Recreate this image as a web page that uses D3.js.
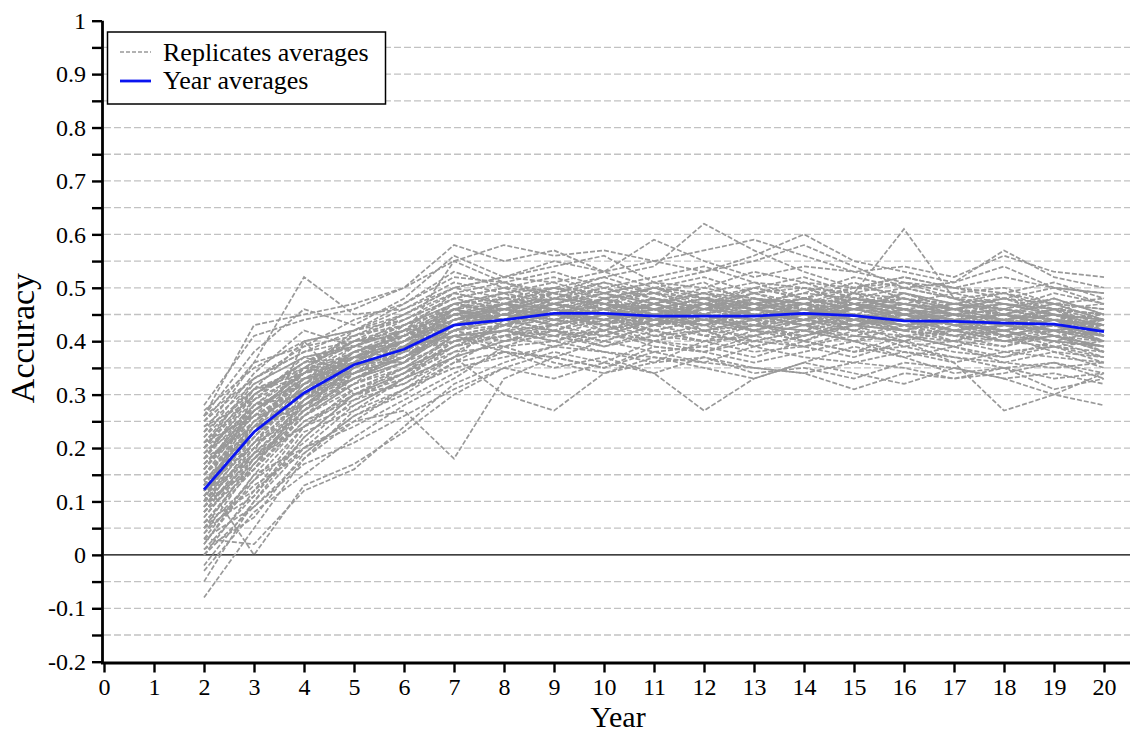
<!DOCTYPE html>
<html><head><meta charset="utf-8">
<script src="https://cdn.jsdelivr.net/npm/d3@7"></script>
<style>body{margin:0;background:#fff}svg{display:block}text{font-family:"Liberation Serif","Times New Roman",serif;fill:#000}</style>
</head><body><svg id="c" width="1133" height="735"></svg>
<script>
const years = [2,3,4,5,6,7,8,9,10,11,12,13,14,15,16,17,18,19,20];
const xTicks = [0,1,2,3,4,5,6,7,8,9,10,11,12,13,14,15,16,17,18,19,20];
const yTicks = [-0.2,-0.1,0,0.1,0.2,0.3,0.4,0.5,0.6,0.7,0.8,0.9,1];
const yTickLabels = ["-0.2","-0.1","0","0.1","0.2","0.3","0.4","0.5","0.6","0.7","0.8","0.9","1"];
const gridValues = [-0.15,-0.1,-0.05,0.05,0.1,0.15,0.2,0.25,0.3,0.35,0.4,0.45,0.5,0.55,0.6,0.65,0.7,0.75,0.8,0.85,0.9,0.95];
const yearAverages = [0.122,0.230,0.303,0.356,0.385,0.430,0.440,0.452,0.452,0.447,0.447,0.447,0.452,0.448,0.438,0.437,0.434,0.432,0.418];
const replicates = [
[.12,.25,.31,.36,.40,.45,.47,.46,.48,.45,.43,.46,.44,.47,.45,.43,.44,.42,.40],
[.05,.18,.27,.33,.37,.41,.43,.44,.42,.44,.46,.45,.43,.44,.46,.44,.41,.43,.41],
[.20,.30,.36,.39,.42,.47,.49,.50,.48,.49,.47,.50,.52,.49,.47,.46,.48,.45,.44],
[-.05,.10,.22,.30,.34,.40,.42,.43,.45,.41,.42,.44,.40,.43,.44,.42,.40,.41,.39],
[.15,.27,.33,.35,.39,.44,.45,.47,.46,.48,.45,.44,.46,.45,.42,.44,.45,.43,.42],
[.08,.20,.29,.37,.36,.42,.44,.42,.45,.47,.44,.43,.45,.48,.46,.43,.42,.44,.43],
[.25,.33,.38,.40,.45,.50,.52,.51,.53,.50,.49,.51,.48,.50,.49,.47,.46,.48,.45],
[.02,.14,.24,.31,.35,.39,.41,.44,.43,.40,.42,.39,.41,.44,.42,.40,.43,.41,.38],
[.10,.22,.32,.34,.38,.43,.46,.45,.44,.46,.48,.45,.47,.44,.45,.46,.44,.42,.43],
[.18,.28,.30,.38,.41,.46,.44,.48,.47,.45,.46,.49,.46,.47,.44,.45,.43,.46,.44],
[.00,.12,.20,.28,.33,.37,.40,.41,.39,.42,.40,.41,.43,.40,.41,.39,.41,.38,.37],
[.13,.24,.34,.37,.40,.44,.47,.49,.46,.44,.47,.46,.48,.46,.47,.45,.44,.45,.41],
[.22,.31,.35,.41,.43,.48,.50,.47,.49,.51,.48,.47,.49,.52,.50,.48,.47,.46,.47],
[.06,.16,.26,.32,.39,.41,.42,.45,.47,.43,.44,.42,.44,.45,.43,.41,.42,.40,.42],
[.16,.26,.28,.34,.37,.42,.45,.43,.45,.48,.46,.45,.44,.43,.46,.44,.43,.44,.40],
[.09,.21,.31,.38,.38,.45,.43,.46,.44,.46,.45,.48,.45,.46,.48,.46,.45,.43,.44],
[.27,.35,.40,.42,.47,.52,.51,.53,.50,.52,.54,.51,.50,.49,.51,.49,.50,.47,.48],
[.03,.15,.25,.29,.32,.38,.39,.40,.42,.39,.38,.40,.39,.41,.40,.38,.37,.39,.36],
[.11,.23,.29,.35,.41,.43,.44,.46,.45,.44,.43,.45,.46,.44,.43,.44,.42,.43,.41],
[.19,.29,.34,.36,.40,.47,.48,.47,.50,.47,.49,.48,.47,.48,.46,.47,.45,.44,.43],
[.14,.20,.30,.33,.36,.40,.43,.45,.43,.45,.41,.43,.42,.45,.44,.42,.41,.42,.38],
[.07,.19,.27,.36,.37,.44,.46,.44,.46,.43,.47,.44,.45,.42,.45,.43,.44,.41,.42],
[.24,.32,.37,.39,.44,.49,.47,.50,.52,.49,.48,.50,.48,.51,.48,.46,.48,.47,.44],
[.01,.11,.23,.27,.31,.36,.38,.37,.40,.38,.39,.37,.40,.38,.39,.37,.36,.38,.35],
[.17,.27,.32,.38,.40,.45,.46,.48,.47,.46,.47,.47,.45,.47,.46,.45,.46,.44,.42],
[.12,.22,.33,.36,.42,.43,.45,.44,.47,.45,.44,.46,.44,.46,.44,.42,.43,.42,.43],
[.21,.26,.35,.40,.41,.46,.49,.45,.48,.50,.47,.46,.48,.47,.49,.46,.45,.47,.44],
[.04,.17,.28,.32,.36,.42,.40,.43,.41,.44,.43,.42,.41,.43,.42,.41,.39,.42,.40],
[.14,.00,.13,.17,.23,.30,.35,.38,.36,.40,.39,.42,.40,.38,.41,.39,.37,.40,.37],
[.28,.41,.44,.46,.50,.58,.55,.57,.53,.55,.57,.59,.56,.53,.54,.52,.56,.53,.52],
[.26,.38,.46,.43,.48,.56,.52,.54,.56,.51,.53,.55,.58,.54,.50,.51,.54,.50,.49],
[.02,.15,.20,.25,.27,.18,.33,.37,.35,.38,.36,.39,.37,.36,.38,.37,.35,.36,.34],
[-.08,.05,.18,.25,.31,.35,.37,.39,.38,.36,.40,.38,.39,.37,.40,.36,.38,.37,.36],
[-.03,.08,.15,.22,.28,.33,.39,.36,.34,.37,.35,.33,.36,.39,.37,.34,.35,.33,.34],
[.10,.19,.24,.28,.33,.37,.30,.27,.34,.36,.37,.34,.35,.33,.36,.35,.33,.34,.32],
[.23,.36,.52,.45,.46,.51,.49,.51,.48,.50,.52,.49,.47,.50,.51,.48,.46,.49,.47],
[.18,.30,.36,.41,.44,.48,.50,.49,.52,.54,.62,.57,.53,.50,.52,.50,.49,.51,.48],
[.13,.25,.31,.37,.40,.44,.47,.46,.44,.47,.45,.48,.46,.49,.61,.48,.45,.47,.46],
[.11,.21,.26,.32,.35,.41,.38,.35,.37,.34,.27,.33,.36,.34,.32,.35,.33,.30,.28],
[.09,.18,.29,.33,.38,.40,.42,.40,.38,.37,.36,.35,.34,.31,.34,.33,.35,.31,.33],
[.20,.31,.40,.42,.45,.50,.52,.55,.53,.59,.55,.52,.54,.53,.51,.50,.52,.50,.49],
[.03,.02,.12,.16,.24,.32,.36,.39,.41,.40,.42,.39,.41,.43,.40,.42,.40,.39,.38],
[.16,.29,.37,.34,.37,.42,.44,.46,.43,.42,.44,.46,.45,.43,.42,.44,.45,.43,.41],
[.22,.34,.42,.39,.43,.47,.46,.48,.51,.48,.46,.49,.51,.48,.47,.49,.47,.46,.45],
[.08,.16,.25,.30,.33,.39,.41,.42,.40,.43,.41,.40,.42,.40,.38,.36,.27,.30,.34],
[.15,.24,.33,.37,.39,.46,.44,.47,.46,.44,.47,.45,.43,.45,.47,.45,.44,.46,.43],
[.05,.14,.21,.29,.34,.38,.42,.40,.43,.41,.40,.43,.42,.40,.43,.41,.42,.39,.40],
[.19,.28,.35,.40,.42,.49,.47,.50,.47,.49,.51,.47,.49,.48,.50,.48,.49,.47,.46],
[.10,.20,.28,.35,.38,.43,.45,.43,.48,.46,.43,.44,.47,.45,.44,.46,.43,.45,.44],
[.12,.27,.34,.39,.39,.45,.48,.46,.45,.47,.49,.46,.45,.49,.45,.43,.46,.44,.42],
[.06,.17,.26,.31,.34,.41,.39,.42,.44,.42,.40,.41,.44,.42,.41,.40,.42,.40,.39],
[.25,.36,.39,.44,.47,.53,.50,.52,.49,.51,.50,.53,.51,.50,.52,.50,.48,.50,.47],
[.17,.26,.31,.36,.43,.47,.49,.47,.45,.46,.48,.47,.46,.48,.47,.45,.47,.45,.42],
[.14,.23,.30,.34,.37,.42,.43,.45,.44,.43,.45,.43,.44,.46,.45,.43,.42,.43,.41],
[.09,.21,.32,.36,.40,.44,.46,.44,.46,.48,.45,.44,.47,.44,.43,.44,.43,.42,.44],
[.20,.33,.38,.42,.46,.50,.48,.50,.49,.47,.50,.48,.47,.49,.48,.46,.45,.48,.45],
[.04,.13,.19,.26,.30,.36,.41,.39,.42,.40,.38,.41,.39,.42,.39,.40,.38,.39,.37],
[.13,.24,.27,.33,.36,.43,.45,.47,.43,.45,.44,.42,.44,.43,.45,.42,.44,.41,.40],
[.21,.30,.36,.37,.42,.45,.47,.45,.48,.44,.46,.47,.45,.44,.46,.44,.45,.43,.42],
[.07,.18,.24,.30,.35,.39,.43,.41,.42,.44,.42,.41,.43,.41,.40,.43,.40,.42,.40],
[.16,.28,.34,.38,.41,.55,.51,.49,.47,.50,.48,.46,.50,.47,.45,.47,.46,.44,.45],
[.11,.19,.40,.30,.32,.37,.44,.42,.40,.43,.45,.42,.40,.44,.42,.41,.40,.41,.39],
[.26,.43,.45,.47,.50,.55,.58,.56,.57,.55,.53,.56,.60,.55,.53,.51,.57,.52,.50],
[.00,.09,.17,.21,.26,.31,.35,.33,.36,.34,.37,.35,.34,.36,.35,.33,.34,.36,.33],
[.15,.25,.31,.38,.42,.46,.44,.47,.49,.46,.44,.47,.45,.46,.49,.46,.47,.45,.43],
[.18,.24,.28,.35,.39,.41,.43,.46,.42,.45,.47,.44,.46,.45,.43,.45,.44,.46,.41],
[.10,.30,.35,.33,.37,.43,.47,.44,.46,.44,.43,.46,.47,.44,.46,.43,.42,.44,.43],
[-.02,.10,.20,.24,.29,.34,.38,.37,.35,.39,.38,.36,.38,.40,.37,.39,.36,.35,.36],
[.23,.31,.34,.42,.44,.48,.46,.49,.51,.49,.46,.50,.48,.46,.49,.47,.48,.46,.45],
[.12,.21,.29,.34,.37,.42,.46,.45,.43,.47,.45,.43,.45,.47,.44,.45,.41,.43,.42],
[.16,.27,.33,.38,.41,.45,.46,.45,.47,.46,.45,.47,.46,.45,.44,.46,.44,.43,.42],
[.08,.19,.28,.33,.37,.42,.44,.46,.44,.43,.45,.44,.46,.44,.45,.43,.44,.42,.41],
[.19,.26,.32,.37,.40,.44,.47,.45,.46,.48,.46,.45,.43,.46,.45,.44,.42,.44,.43],
[.03,.09,.18,.27,.33,.40,.41,.43,.45,.42,.44,.43,.42,.44,.43,.42,.43,.41,.39],
[.24,.29,.36,.40,.43,.47,.45,.49,.47,.46,.48,.46,.48,.47,.45,.47,.46,.45,.44],
[.11,.24,.30,.35,.39,.43,.45,.44,.46,.45,.43,.46,.44,.47,.46,.43,.45,.44,.41],
[.14,.22,.31,.37,.38,.46,.43,.47,.45,.44,.46,.48,.45,.44,.47,.45,.43,.45,.42],
[.06,.12,.24,.31,.35,.41,.42,.41,.44,.46,.42,.44,.43,.45,.41,.42,.44,.43,.40],
[.21,.32,.37,.39,.43,.46,.48,.49,.46,.47,.49,.47,.48,.46,.48,.45,.46,.44,.43],
[.09,.17,.27,.32,.36,.44,.45,.43,.46,.44,.45,.42,.45,.46,.44,.41,.43,.42,.41],
[.17,.25,.33,.34,.40,.43,.47,.46,.44,.47,.44,.46,.47,.45,.42,.45,.44,.46,.42],
[.01,.07,.19,.26,.31,.37,.40,.42,.39,.41,.43,.40,.42,.41,.43,.40,.39,.41,.38],
[.13,.28,.32,.39,.42,.45,.44,.48,.47,.45,.47,.45,.44,.48,.46,.44,.45,.43,.44],
[.26,.33,.39,.41,.45,.49,.51,.48,.50,.48,.47,.49,.50,.47,.48,.47,.49,.46,.45],
[.10,.16,.29,.36,.36,.43,.44,.45,.43,.46,.44,.45,.43,.42,.44,.43,.41,.43,.40],
[.15,.23,.35,.37,.41,.44,.46,.47,.45,.43,.46,.44,.45,.47,.45,.44,.43,.42,.41],
[.05,.11,.22,.30,.34,.39,.43,.42,.41,.44,.42,.43,.41,.43,.42,.44,.41,.40,.39],
[.20,.27,.34,.40,.41,.47,.45,.46,.49,.47,.45,.48,.47,.46,.47,.46,.47,.45,.44],
[.12,.18,.26,.34,.39,.42,.45,.43,.45,.43,.44,.43,.46,.43,.44,.42,.43,.44,.42],
[.18,.31,.33,.36,.40,.46,.47,.48,.46,.48,.46,.47,.45,.48,.46,.45,.44,.45,.43]
];
const legendLabels = ["Replicates averages","Year averages"];

const svg = d3.select("#c");
const x = d3.scaleLinear().domain([0,20.52]).range([104,1130]);
const y = d3.scaleLinear().domain([-0.2,1]).range([661.7,20.7]);
const serif = "Liberation Serif";

// grid
svg.append("g").selectAll("line").data(gridValues).join("line")
  .attr("x1",x(0)).attr("x2",x(20.52)).attr("y1",d=>y(d)).attr("y2",d=>y(d))
  .attr("stroke","#c2c2c2").attr("stroke-width",1.3).attr("stroke-dasharray","7,3");
// zero line
svg.append("line").attr("x1",x(0)).attr("x2",x(20.52)).attr("y1",y(0)).attr("y2",y(0))
  .attr("stroke","#000").attr("stroke-width",1.4);

const line = d3.line().x((d,i)=>x(years[i])).y(d=>y(d));
svg.append("g").selectAll("path").data(replicates).join("path")
  .attr("d",line).attr("fill","none").attr("stroke","#999999").attr("stroke-width",1.7)
  .attr("stroke-dasharray","5,2");
svg.append("path").datum(yearAverages).attr("d",line).attr("fill","none")
  .attr("stroke","#0a14f0").attr("stroke-width",2.8);

// axes
const yAxis = d3.axisLeft(y).tickValues(d3.range(-0.2,1.0001,0.05).map(v=>+v.toFixed(2)))
  .tickSize(10).tickSizeOuter(0)
  .tickFormat(d=>{const i=yTicks.findIndex(t=>Math.abs(t-d)<1e-6);return i>=0?yTickLabels[i]:"";});
const gy = svg.append("g").attr("transform","translate(102,0)").call(yAxis);
const xAxis = d3.axisBottom(x).tickValues(xTicks).tickSize(10).tickSizeOuter(0).tickFormat(d=>String(d));
const gx = svg.append("g").attr("transform","translate(0,662.5)").call(xAxis);
[gx,gy].forEach(g=>{
  g.attr("font-family",serif).attr("font-size",24);
  g.select(".domain").attr("stroke","#000").attr("stroke-width",2.8);
  g.selectAll(".tick line").attr("stroke","#000").attr("stroke-width",2.4);
  g.selectAll(".tick text").attr("fill","#000").style("font-family","'Liberation Serif', serif").style("font-size","24px");
});
gy.selectAll(".tick text").attr("x",-16);
gx.selectAll(".tick text").attr("y",15);
gx.select(".domain").attr("d",`M${x(0)-3},0.5H${x(20.52)}`);
gy.select(".domain").attr("d",`M0.5,${y(-0.2)+1}V${y(1)}`);

// titles
svg.append("text").attr("x",618).attr("y",727).attr("text-anchor","middle")
  .attr("font-family",serif).attr("font-size",30).text("Year");
svg.append("text").attr("transform","translate(34,338) rotate(-90)").attr("text-anchor","middle")
  .attr("font-family",serif).attr("font-size",34).text("Accuracy");

// legend
const lg = svg.append("g");
lg.append("rect").attr("x",107.5).attr("y",32).attr("width",278).attr("height",72)
  .attr("fill","#fff").attr("stroke","#000").attr("stroke-width",1.5);
lg.append("line").attr("x1",120).attr("x2",151).attr("y1",52).attr("y2",52)
  .attr("stroke","#999999").attr("stroke-width",1.3).attr("stroke-dasharray","4,2");
lg.append("line").attr("x1",120).attr("x2",151).attr("y1",81).attr("y2",81)
  .attr("stroke","#0a14f0").attr("stroke-width",2.8);
lg.selectAll("text").data(legendLabels).join("text")
  .attr("x",163).attr("y",(d,i)=>61+i*28).attr("font-family",serif).attr("font-size",26).text(d=>d);
</script></body></html>
